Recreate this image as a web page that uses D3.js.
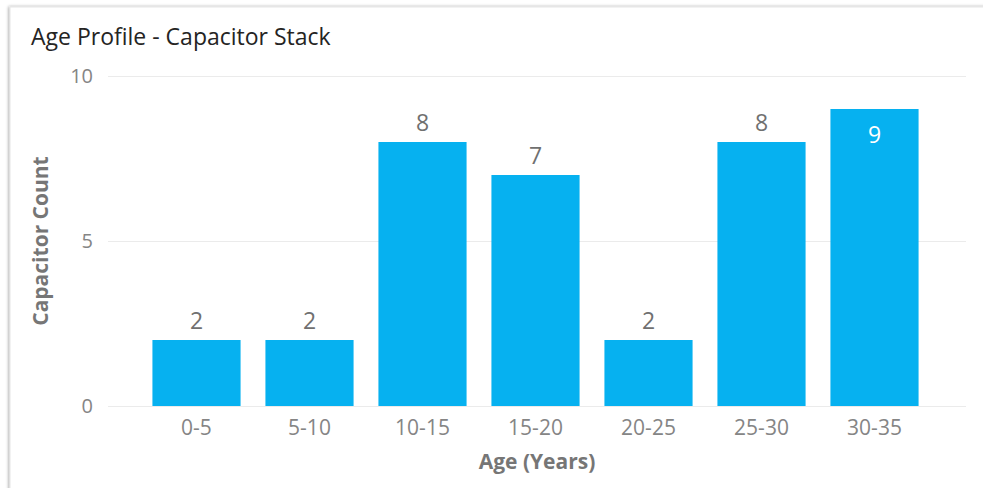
<!DOCTYPE html>
<html>
<head>
<meta charset="utf-8">
<script src="https://cdn.jsdelivr.net/npm/d3@7"></script>
<style>
  body { margin: 0; background: #fff; overflow: hidden; }
  svg text { font-family: "Open Sans", "Noto Sans", sans-serif; }
</style>
</head>
<body>
<svg id="canvas" width="983" height="488"></svg>
<script>
// chart data
const ageBands = ["0-5", "5-10", "10-15", "15-20", "20-25", "25-30", "30-35"];
const counts = [2, 2, 8, 7, 2, 8, 9];
const yTicks = [0, 5, 10];

const svg = d3.select('#canvas');

// card with a soft shadow (runs off the right and bottom edges)
const defs = svg.append('defs');
const shadow = defs.append('filter').attr('id', 'shadow')
    .attr('x', '-5%').attr('y', '-5%').attr('width', '110%').attr('height', '110%');
shadow.append('feDropShadow')
    .attr('dx', -1).attr('dy', 0).attr('stdDeviation', 1.5)
    .attr('flood-color', '#000').attr('flood-opacity', 0.35);

svg.append('rect')
    .attr('x', 10).attr('y', 7)
    .attr('width', 1000).attr('height', 500)
    .attr('fill', '#fff')
    .attr('stroke', '#e6e6e6')
    .attr('filter', 'url(#shadow)');

svg.append('text')
    .attr('x', 31).attr('y', 45)
    .attr('font-size', 23)
    .attr('fill', '#252423')
    .text('Age Profile - Capacitor Stack');

// scales
const x = d3.scaleBand()
    .domain(ageBands)
    .range([140, 931])
    .paddingInner(0.22)
    .paddingOuter(0.11);

const y = d3.scaleLinear()
    .domain([0, 10])
    .range([406, 76]);

// gridlines
svg.append('g').selectAll('line')
    .data(yTicks)
    .join('line')
    .attr('x1', 108).attr('x2', 966)
    .attr('y1', d => y(d) + 0.5).attr('y2', d => y(d) + 0.5)
    .attr('stroke', '#ebebeb');

// y axis labels
const yAxis = svg.append('g')
    .attr('transform', 'translate(93,0)')
    .call(d3.axisLeft(y).tickValues(yTicks).tickSize(0).tickPadding(0));
yAxis.select('.domain').remove();
yAxis.selectAll('text')
    .attr('font-size', 20)
    .attr('fill', '#858585')
    .style('font-family', '"Open Sans", sans-serif');

// x axis labels
const xAxis = svg.append('g')
    .attr('transform', 'translate(0,406)')
    .call(d3.axisBottom(x).tickSize(0).tickPadding(14));
xAxis.select('.domain').remove();
xAxis.selectAll('text')
    .attr('font-size', 21)
    .attr('fill', '#858585')
    .style('font-family', '"Open Sans", sans-serif');

// axis titles
svg.append('text')
    .attr('x', 537).attr('y', 469)
    .attr('text-anchor', 'middle')
    .attr('font-size', 21)
    .attr('font-weight', 'bold')
    .attr('fill', '#767676')
    .text('Age (Years)');

svg.append('text')
    .attr('transform', 'translate(48,241) rotate(-90)')
    .attr('text-anchor', 'middle')
    .attr('font-size', 21)
    .attr('font-weight', 'bold')
    .attr('fill', '#767676')
    .text('Capacitor Count');

// bars
const data = ageBands.map((d, i) => ({band: d, value: counts[i]}));

svg.append('g').selectAll('rect')
    .data(data)
    .join('rect')
    .attr('x', d => x(d.band))
    .attr('y', d => y(d.value))
    .attr('width', x.bandwidth())
    .attr('height', d => y(0) - y(d.value))
    .attr('fill', '#06B1F0');

// data labels: inside the bar when there's no room above it
const inside = d => y(d.value) - 40 < y(10);
svg.append('g').selectAll('text')
    .data(data)
    .join('text')
    .attr('x', d => x(d.band) + x.bandwidth() / 2)
    .attr('y', d => inside(d) ? y(d.value) + 34 : y(d.value) - 11)
    .attr('text-anchor', 'middle')
    .attr('font-size', 23)
    .attr('fill', d => inside(d) ? '#fff' : '#707070')
    .text(d => d.value);
</script>
</body>
</html>
